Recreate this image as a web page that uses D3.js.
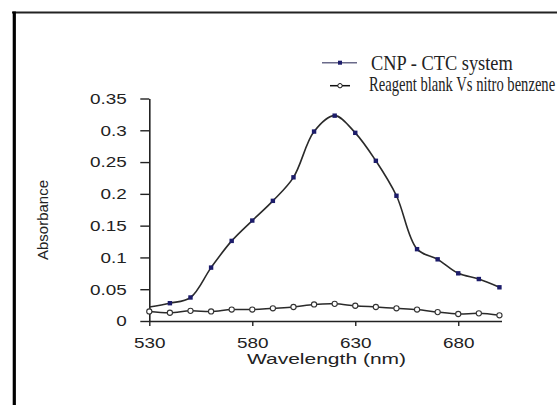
<!DOCTYPE html>
<html><head><meta charset="utf-8">
<script src="https://cdn.jsdelivr.net/npm/d3@7"></script>
<style>
html,body{margin:0;padding:0;background:#fff;}
svg{display:block;}
</style></head>
<body>
<svg id="chart" width="557" height="405"></svg>
<script>
const wavelengths = [530,540,550,560,570,580,590,600,610,620,630,640,650,660,670,680,690,700];
const cnpCtc = [0.022,0.028,0.037,0.084,0.126,0.158,0.189,0.226,0.298,0.323,0.296,0.252,0.197,0.113,0.097,0.075,0.066,0.053];
const reagentBlank = [0.015,0.013,0.016,0.015,0.018,0.018,0.020,0.022,0.026,0.027,0.024,0.022,0.020,0.018,0.014,0.011,0.012,0.009];
const xTicks = [530,580,630,680];
const yTicks = [0,0.05,0.1,0.15,0.2,0.25,0.3,0.35];
const seriesNames = ["CNP - CTC system","Reagent blank Vs nitro benzene"];

const svg = d3.select("#chart");
svg.append("rect").attr("width",557).attr("height",405).attr("fill","#fff");

// frame
svg.append("line").attr("x1",12).attr("x2",557).attr("y1",12.5).attr("y2",12.5)
  .attr("stroke","#222").attr("stroke-width",2);
svg.append("line").attr("x1",14.3).attr("x2",14.3).attr("y1",11.5).attr("y2",405)
  .attr("stroke","#000").attr("stroke-width",3.2);

const x = d3.scaleLinear().domain([530,701]).range([149.3,501.5]);
const y = d3.scaleLinear().domain([0,0.35]).range([321,98.5]);

const tickFont = "'Liberation Sans', Arial, sans-serif";

// y axis
const yAxis = svg.append("g").attr("transform","translate(149.3,0)")
  .call(d3.axisLeft(y).tickValues(yTicks).tickFormat(d=>d===0?"0":String(d)).tickSize(9).tickSizeOuter(0));
yAxis.select(".domain").attr("stroke","#222").attr("stroke-width",1.6);
yAxis.selectAll(".tick line").attr("stroke","#222").attr("stroke-width",1.4);
yAxis.selectAll(".tick text")
  .attr("font-family",tickFont).attr("font-size",14).attr("fill","#222")
  .attr("text-anchor","end").attr("dy","0.35em")
  .attr("x",-22.5/1.35).attr("transform","scale(1.35,1)");

// x axis
const xAxis = svg.append("g").attr("transform","translate(0,321)")
  .call(d3.axisBottom(x).tickValues(xTicks).tickFormat(d3.format("d")).tickSize(5).tickSizeOuter(0));
xAxis.select(".domain").attr("stroke","#222").attr("stroke-width",1.6);
xAxis.selectAll(".tick line").attr("stroke","#222").attr("stroke-width",1.4);
xAxis.selectAll(".tick text")
  .attr("font-family",tickFont).attr("font-size",14).attr("fill","#222")
  .attr("y",27).attr("dy",0).attr("transform","scale(1.35,1)");

// axis titles
svg.append("text").attr("transform","translate(326.5,364) scale(1.45,1)")
  .attr("text-anchor","middle").attr("font-family",tickFont).attr("font-size",14.5)
  .attr("fill","#222").text("Wavelength (nm)");
svg.append("text").attr("transform","translate(48,220) rotate(-90)")
  .attr("text-anchor","middle").attr("font-family",tickFont).attr("font-size",15)
  .attr("fill","#222").text("Absorbance");

// lines
const line = d3.line().x(d=>x(d[0])).y(d=>y(d[1])).curve(d3.curveCatmullRom.alpha(0.5));
const cnpData = wavelengths.map((w,i)=>[w,cnpCtc[i]]);
const blankData = wavelengths.map((w,i)=>[w,reagentBlank[i]]);

svg.append("path").datum(blankData).attr("d",line).attr("fill","none")
  .attr("stroke","#2a2a2a").attr("stroke-width",1.5);
svg.append("path").datum(cnpData).attr("d",line).attr("fill","none")
  .attr("stroke","#2a2a2a").attr("stroke-width",1.6);

svg.selectAll(".blankpt").data(blankData).enter().append("circle")
  .attr("cx",d=>x(d[0])).attr("cy",d=>y(d[1])).attr("r",2.6)
  .attr("fill","#fff").attr("stroke","#333").attr("stroke-width",1.1);
svg.selectAll(".cnppt").data(cnpData.slice(1)).enter().append("rect")
  .attr("x",d=>x(d[0])-2.2).attr("y",d=>y(d[1])-2.2).attr("width",4.4).attr("height",4.4)
  .attr("fill","#1c1c6a");

// legend
svg.append("line").attr("x1",322).attr("x2",357).attr("y1",62.7).attr("y2",62.7)
  .attr("stroke","#6a6a8a").attr("stroke-width",1.4);
svg.append("rect").attr("x",338).attr("y",60.7).attr("width",4).attr("height",4).attr("fill","#1c1c6a");
svg.append("line").attr("x1",330).attr("x2",350).attr("y1",85.7).attr("y2",85.7)
  .attr("stroke","#111").attr("stroke-width",1.5);
svg.append("circle").attr("cx",340).attr("cy",85.7).attr("r",2.2)
  .attr("fill","#fff").attr("stroke","#111").attr("stroke-width",1);

const serif = "'Liberation Serif','Times New Roman',serif";
svg.append("text").attr("transform","translate(371,69.5) scale(0.92,1)")
  .attr("font-family",serif).attr("font-size",20).attr("fill","#222").text(seriesNames[0]);
svg.append("text").attr("transform","translate(369,90.5) scale(0.73,1)")
  .attr("font-family",serif).attr("font-size",20).attr("fill","#222").text(seriesNames[1]);
</script>
</body></html>
